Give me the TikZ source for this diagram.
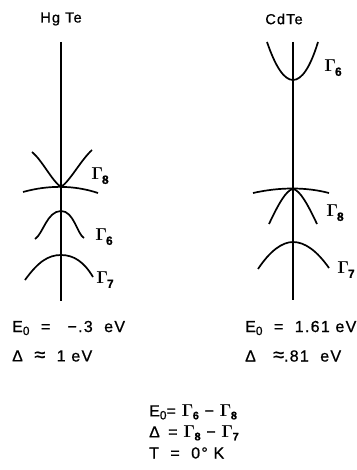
\documentclass[tikz,border=0pt]{standalone}
\usepackage{fontspec}
\setmainfont{Liberation Sans}[LetterSpace=8,FakeBold=0.8]
\newcommand\sbz{\raisebox{-3pt}{\fontsize{12}{12}\selectfont 0}}
\newcommand\apx{{\fontsize{20}{17}\selectfont ≈}}
\newcommand\Gl[1]{{\fontsize{18}{18}\selectfont\boldmath$\Gamma$}\kern-1pt\raisebox{-4pt}{\fontsize{12}{12}\selectfont\bfseries #1}}
\newcommand\Gs[1]{{\fontsize{16}{16}\selectfont\boldmath$\Gamma$}\kern-0.5pt\raisebox{-3pt}{\fontsize{11}{11}\selectfont\bfseries #1}}
\begin{document}
\begin{tikzpicture}[x=1pt,y=-1pt,
  band/.style={line width=1.7pt},
  axisline/.style={line width=1.7pt},
  title/.style={font=\fontsize{14.5}{15}\selectfont, inner sep=0pt},
  txt/.style={font=\fontsize{16}{17}\selectfont, inner sep=0pt, anchor=west},
  glab/.style={inner sep=0pt}]
\useasboundingbox (0,0) rectangle (356,470);
% titles
\node[title] (hgt) at (61,19) {Hg Te};
\node[title] (cdt) at (284,19) {CdTe};
% axes
\coordinate (ha1) at (61,42);
\coordinate (ha2) at (61,301);
\coordinate (ca1) at (293,42);
\coordinate (ca2) at (293,300);
\draw[axisline] (ha1) -- (ha2);
\draw[axisline] (ca1) -- (ca2);
% HgTe bands
\draw[band] (32,152) .. controls (42,160) and (52,181) .. (61,187) .. controls (70,181) and (81,160) .. (92,150);
\draw[band] (23,192) .. controls (48,185) and (74,185) .. (98,193);
\draw[band] (35,239) .. controls (43,234) and (47,211) .. (61,211) .. controls (74,211) and (77,234) .. (84,238);
\draw[band] (25,280) .. controls (38,262) and (48,255) .. (61,255) .. controls (74,255) and (84,262) .. (93,277);
% CdTe bands
\draw[band] (267,42) .. controls (275.7,67.3) and (284.3,80) .. (293,80) .. controls (301.7,80) and (310.3,67.3) .. (318,42);
\draw[band] (253,193) .. controls (280,187) and (306,187) .. (329,193);
\draw[band] (269,224) .. controls (278,205) and (286,190) .. (293,189) .. controls (300,190) and (308,205) .. (317,224);
\draw[band] (258,269) .. controls (270,251) and (282,242) .. (293,242) .. controls (305,242) and (317,251) .. (329,268);
% band labels
\node[glab] (hg8) at (100,176) {\Gl8};
\node[glab] (hg6) at (104,237) {\Gl6};
\node[glab] (hg7) at (105,280) {\Gl7};
\node[glab] (cd6) at (333,68) {\Gl6};
\node[glab] (cd8) at (335,213) {\Gl8};
\node[glab] (cd7) at (346,270) {\Gl7};
% values
\node[txt] (hge) at (12,328) {E\sbz\ \ = \ \ −.3 \ eV};
\node[txt] (hgd) at (12,356) {Δ \ \apx\ \ 1 eV};
\node[txt] (cde) at (245,328) {E\sbz\ \ = \ 1.61 eV};
\node[txt] (cdd) at (245,356) {Δ \ \ \apx.81 \ eV};
% definitions
\node[txt] (d1) at (149,412) {E\sbz= \Gs6 − \Gs8};
\node[txt] (d2) at (149,433) {Δ \,= \Gs8 − \Gs7};
\node[txt] (d3) at (149,453) {T \ = \ 0° K};
\end{tikzpicture}
\end{document}
